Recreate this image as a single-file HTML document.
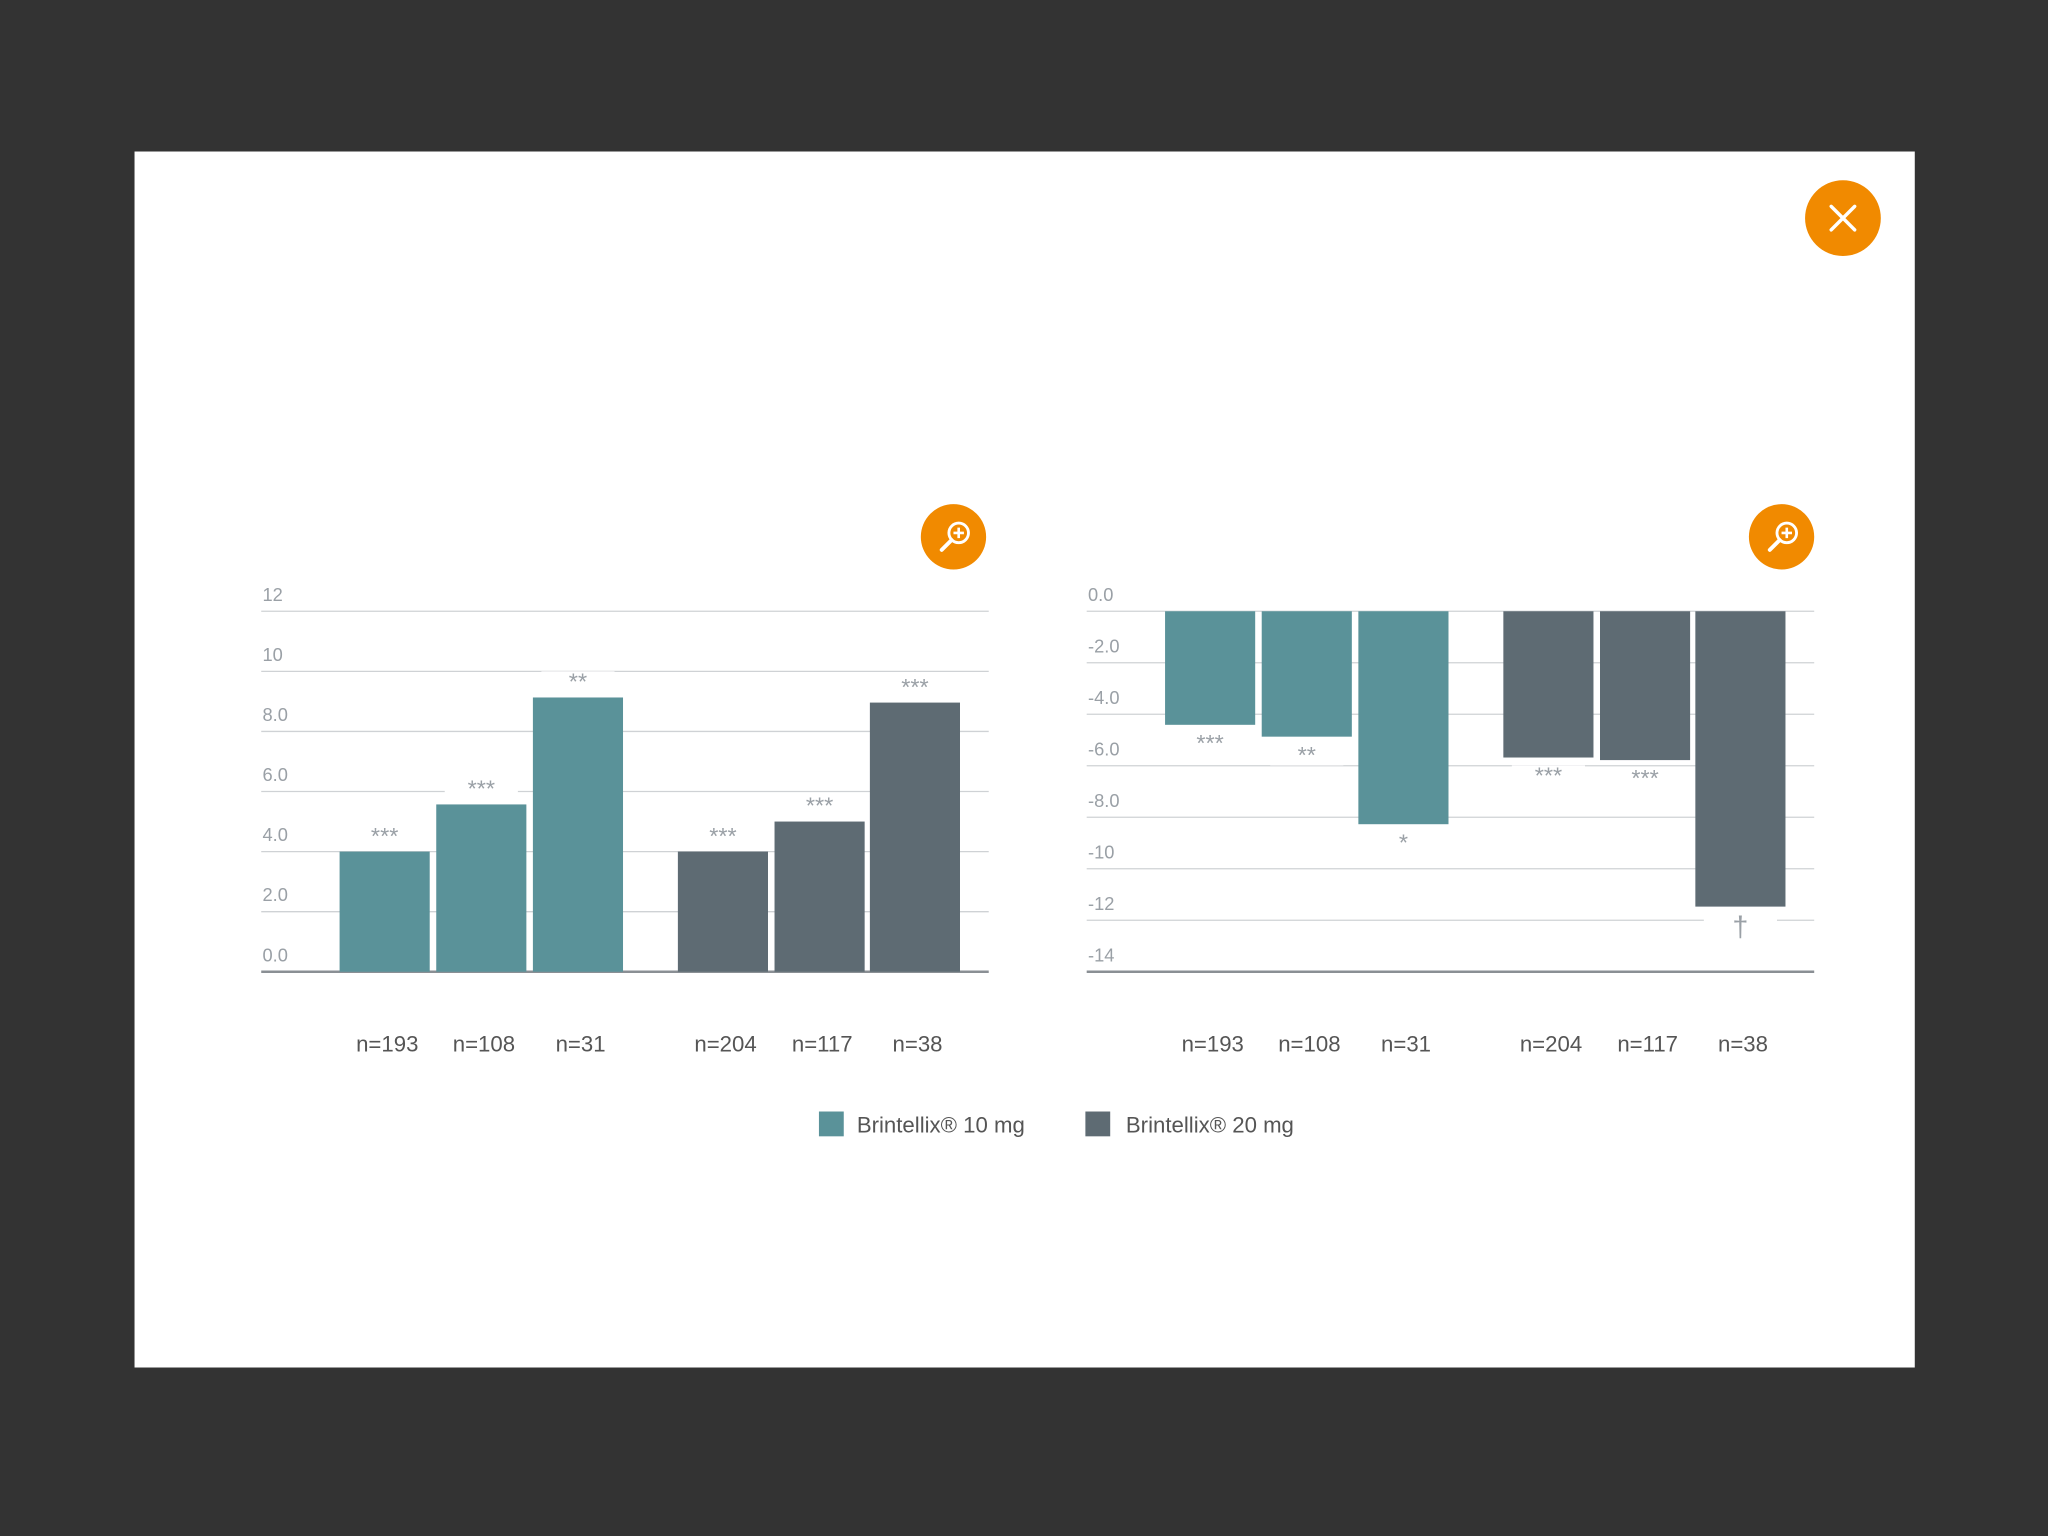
<!DOCTYPE html>
<html><head><meta charset="utf-8">
<style>
html,body{margin:0;padding:0;background:#333;}
svg{display:block;}
text{font-family:"Liberation Sans",sans-serif;}
</style></head>
<body>
<svg id="root" width="2048" height="1536" viewBox="0 0 1568 1176" xmlns="http://www.w3.org/2000/svg">
<rect x="0" y="0" width="1568" height="1176" fill="#333333"/>
<rect x="103" y="116" width="1363" height="931" fill="#ffffff"/>
<g>
<circle cx="1411" cy="167" r="29" fill="#f18a00"/>
<path d="M1402 158 L1420 176 M1420 158 L1402 176" stroke="#fff" stroke-width="2.6" stroke-linecap="round"/>
</g>
<g>
<circle cx="730" cy="411" r="25" fill="#f18a00"/>
<circle cx="734" cy="408" r="7.5" fill="none" stroke="#fff" stroke-width="2.2"/>
<path d="M734 404 V412 M730 408 H738" stroke="#fff" stroke-width="2"/>
<path d="M728.5 413.5 L721 421" stroke="#fff" stroke-width="3" stroke-linecap="round"/>
</g>
<g>
<circle cx="1364" cy="411" r="25" fill="#f18a00"/>
<circle cx="1368" cy="408" r="7.5" fill="none" stroke="#fff" stroke-width="2.2"/>
<path d="M1368 404 V412 M1364 408 H1372" stroke="#fff" stroke-width="2"/>
<path d="M1362.5 413.5 L1355 421" stroke="#fff" stroke-width="3" stroke-linecap="round"/>
</g>
<g id="left-chart"></g>
<g id="right-chart"></g>
<g>
<g>
<rect x="627" y="851" width="19" height="19" fill="#5a9299"/>
<text x="656" y="867" font-size="17" fill="#555">Brintellix® 10 mg</text>
</g>
<g>
<rect x="831" y="851" width="19" height="19" fill="#5e6b73"/>
<text x="862" y="867" font-size="17" fill="#555">Brintellix® 20 mg</text>
</g>
</g>
</svg>
<script>
const NS = "http://www.w3.org/2000/svg";
const nLabels = ["n=193","n=108","n=31","n=204","n=117","n=38"];
const leftValues = [4.0, 5.57, 9.13, 4.0, 5.0, 8.96];
const leftSig = ["***","***","**","***","***","***"];
const leftTicks = ["0.0","2.0","4.0","6.0","8.0","10","12"];
const leftTickVals = [0,2,4,6,8,10,12];
const rightValues = [-4.41, -4.87, -8.27, -5.68, -5.78, -11.47];
const rightSig = ["***","**","*","***","***","†"];
const rightTicks = ["0.0","-2.0","-4.0","-6.0","-8.0","-10","-12","-14"];
const rightTickVals = [0,-2,-4,-6,-8,-10,-12,-14];
const colors = ["#5a9299","#5a9299","#5a9299","#5e6b73","#5e6b73","#5e6b73"];

function mk(tag, attrs, parent){
  const e = document.createElementNS(NS, tag);
  for (const k in attrs) e.setAttribute(k, attrs[k]);
  parent.appendChild(e); return e;
}
const barOffsets = [60,134,208,319,393,466];

function drawChart(g, x0, values, sig, ticks, tickVals, vmin, vmax, negative){
  const top = 468, bottom = 744, w = 557, bw = 69;
  const y = v => top + (vmax - v) / (vmax - vmin) * (bottom - top);
  tickVals.forEach((tv,i)=>{
    const yy = y(tv);
    const axis = (tv === (negative ? vmin : vmin));
    const line = mk("line",{x1:x0,x2:x0+w,y1:yy,y2:yy,stroke:axis?"#8a8f94":"#cfd2d5","stroke-width":axis?2:1},g);
    
    
    const t = mk("text",{x:x0+1,y:yy-8,"font-size":14,fill:"#9aa0a6"},g);
    t.textContent = ticks[i];
    
    
  });
  values.forEach((v,i)=>{
    const bx = x0 + barOffsets[i];
    const y1 = y(Math.max(0,v)), y2 = y(Math.min(0,v));
    const r = mk("rect",{x:bx,y:y1,width:bw,height:y2-y1,fill:colors[i]},g);
    
    
    const cx = bx + bw/2;
    const ly = negative ? y2 + 20 : y1 - 6;
    const isDagger = sig[i] === "†";
    const bg = mk("rect",{x:cx-28,y:ly-14,width:56,height:16,fill:"#fff"},g);
    
    
    const s = mk("text",{x:cx,y:isDagger?ly+3:ly,"font-size":isDagger?22:18,"text-anchor":"middle",fill:"#9aa0a6"},g);
    s.textContent = sig[i];
    
    
    const n = mk("text",{x:cx+2,y:805,"font-size":17,"text-anchor":"middle",fill:"#555"},g);
    n.textContent = nLabels[i];
    
    
  });
}
drawChart(document.getElementById("left-chart"), 200, leftValues, leftSig, leftTicks, leftTickVals, 0, 12, false);
drawChart(document.getElementById("right-chart"), 832, rightValues, rightSig, rightTicks, rightTickVals, -14, 0, true);
</script>
</body></html>
